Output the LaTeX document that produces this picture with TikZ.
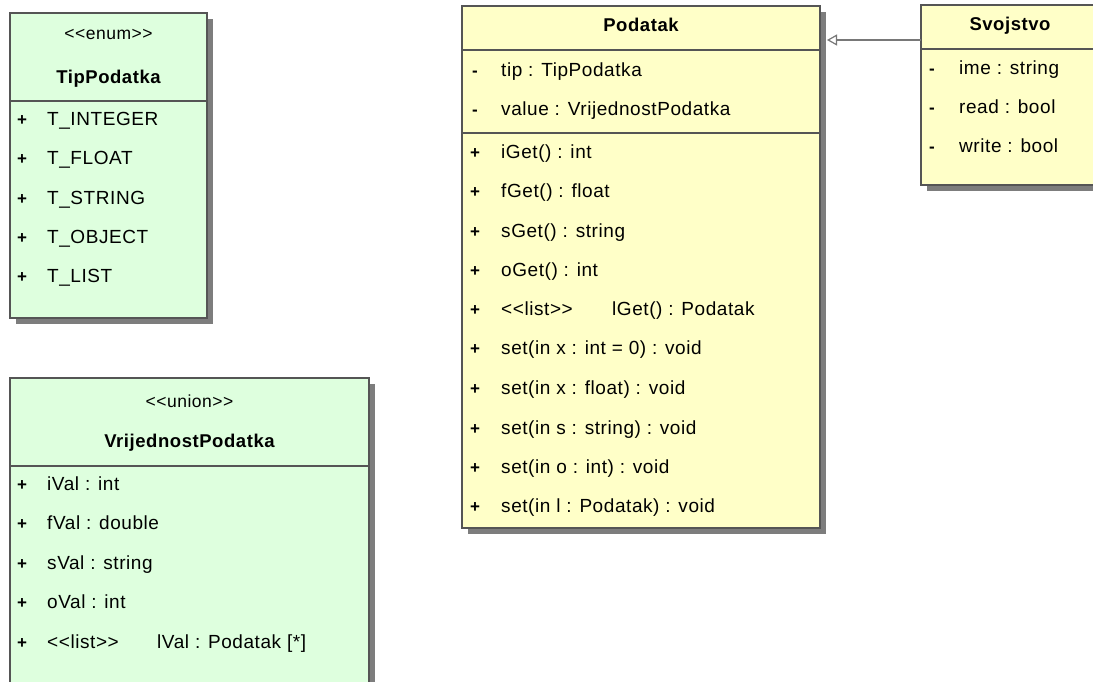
\documentclass[tikz,border=0pt]{standalone}
\usepackage{fontspec}
\newfontfamily\umlfont{Liberation Sans}[LetterSpace=3]
\usetikzlibrary{arrows.meta,shadows}
\definecolor{enumfill}{RGB}{222,255,222}
\definecolor{classfill}{RGB}{255,255,200}
\definecolor{edgecol}{RGB}{85,85,85}
\definecolor{shadecol}{RGB}{125,125,125}
\definecolor{linkcol}{RGB}{120,120,120}
\newcommand{\member}[6]{%
  \node[sign] (#1s) at (#2,#4) {#5};
  \node[txt] (#1) at (#3,#4) {#6};}
\begin{document}
\begin{tikzpicture}[x=1pt,y=-1pt,
  umlbox/.style={draw=edgecol, line width=1.2pt, inner sep=0pt, outer sep=0pt,
    anchor=north west,
    drop shadow={shadow xshift=6pt, shadow yshift=-6pt, fill=shadecol, opacity=1}},
  divider/.style={draw=edgecol, line width=1.2pt},
  txt/.style={font=\umlfont\fontsize{19}{22}\selectfont, inner sep=0pt, anchor=mid west, yshift=-5.5pt},
  sign/.style={font=\umlfont\bfseries\fontsize{17}{20}\selectfont, inner sep=0pt, anchor=mid, yshift=-5.5pt},
  title/.style={font=\umlfont\bfseries\fontsize{18.5}{22}\selectfont, inner sep=0pt, anchor=mid, yshift=-5pt},
  stereo/.style={font=\umlfont\fontsize{17.5}{20}\selectfont, inner sep=0pt, anchor=mid, yshift=-4pt},
  gen/.style={draw=linkcol, line width=1.2pt,
    -{Triangle[open, length=10pt, width=11pt, line width=1.2pt]}}]
\useasboundingbox (0,0) rectangle (1093,681);
\fill[white] (0,0) rectangle (1093,681);
\clip (0,0) rectangle (1093,681);

% ---- TipPodatka (enum) ----
\node[umlbox, fill=enumfill, minimum width=197pt, minimum height=305pt] (tip) at (10,13) {};
\coordinate (tipdiv) at (0,101);
\draw[divider] (tip.west |- tipdiv) -- (tip.east |- tipdiv);
\node[stereo] (tipst) at (108.5,33) {<<enum>>};
\node[title] (tiptitle) at (108.5,76) {TipPodatka};
\member{e1}{22}{47}{118}{+}{T\_INTEGER}
\member{e2}{22}{47}{157}{+}{T\_FLOAT}
\member{e3}{22}{47}{197}{+}{T\_STRING}
\member{e4}{22}{47}{236}{+}{T\_OBJECT}
\member{e5}{22}{47}{275}{+}{T\_LIST}

% ---- VrijednostPodatka (union) ----
\node[umlbox, fill=enumfill, minimum width=359pt, minimum height=320pt] (val) at (10,378) {};
\coordinate (valdiv) at (0,466);
\draw[divider] (val.west |- valdiv) -- (val.east |- valdiv);
\node[stereo] (valst) at (189.5,401) {<<union>>};
\node[title] (valtitle) at (189.5,440) {VrijednostPodatka};
\member{u1}{22}{47}{483}{+}{iVal : int}
\member{u2}{22}{47}{522}{+}{fVal : double}
\member{u3}{22}{47}{562}{+}{sVal : string}
\member{u4}{22}{47}{601}{+}{oVal : int}
\member{u5}{22}{47}{641}{+}{<<list>>}
\node[txt] (u5b) at (157,641) {lVal : Podatak [*]};

% ---- Podatak ----
\node[umlbox, fill=classfill, minimum width=358pt, minimum height=522pt] (pod) at (462,6) {};
\coordinate (poddiva) at (0,50);
\coordinate (poddivb) at (0,133);
\draw[divider] (pod.west |- poddiva) -- (pod.east |- poddiva);
\draw[divider] (pod.west |- poddivb) -- (pod.east |- poddivb);
\node[title] (podtitle) at (641,24) {Podatak};
\member{a1}{475}{501}{69}{-}{tip : TipPodatka}
\member{a2}{475}{501}{108}{-}{value : VrijednostPodatka}
\member{m1}{475}{501}{151}{+}{iGet() : int}
\member{m2}{475}{501}{190}{+}{fGet() : float}
\member{m3}{475}{501}{230}{+}{sGet() : string}
\member{m4}{475}{501}{269}{+}{oGet() : int}
\member{m5}{475}{501}{308}{+}{<<list>>}
\node[txt] (m5b) at (612,308) {lGet() : Podatak};
\member{m6}{475}{501}{347}{+}{set(in x : int = 0) : void}
\member{m7}{475}{501}{387}{+}{set(in x : float) : void}
\member{m8}{475}{501}{427}{+}{set(in s : string) : void}
\member{m9}{475}{501}{466}{+}{set(in o : int) : void}
\member{m10}{475}{501}{505}{+}{set(in l : Podatak) : void}

% ---- Svojstvo ----
\node[umlbox, fill=classfill, minimum width=178pt, minimum height=180pt] (svo) at (921,5) {};
\coordinate (svodiv) at (0,49);
\draw[divider] (svo.west |- svodiv) -- (svo.east |- svodiv);
\node[title] (svotitle) at (1010,23) {Svojstvo};
\member{s1}{932}{959}{67}{-}{ime : string}
\member{s2}{932}{959}{106}{-}{read : bool}
\member{s3}{932}{959}{145}{-}{write : bool}

% ---- generalisation Svojstvo -> Podatak ----
\coordinate (genrow) at (0,40);
\coordinate (podedge) at ([xshift=7pt]pod.east);
\draw[gen] (svo.west |- genrow) -- (podedge |- genrow);
\end{tikzpicture}
\end{document}
